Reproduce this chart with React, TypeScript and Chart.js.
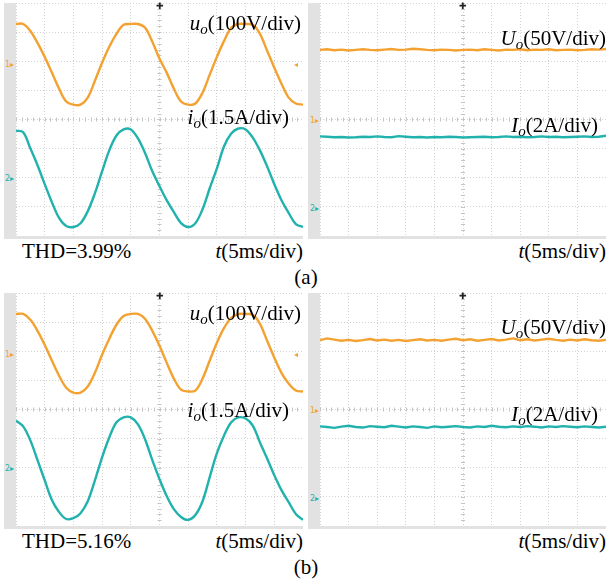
import React, { useEffect, useRef } from "react";
import { Chart, registerables } from "chart.js";
Chart.register(...registerables);

// time axis in divisions (5 ms/div)
const TIME = [0,0.25,0.5,0.75,1,1.25,1.5,1.75,2,2.25,2.5,2.75,3,3.25,3.5,3.75,4,4.25,4.5,4.75,5,5.25,5.5,5.75,6,6.25,6.5,6.75,7,7.25,7.5,7.75,8,8.25,8.5,8.75,9,9.25,9.5,9.75,10];

// (a) AC side, screen divisions
const uoA = [3.28,3.28,3.04,2.63,2.15,1.61,1.06,0.62,0.51,0.51,0.75,1.33,1.95,2.50,2.94,3.25,3.28,3.28,3.15,2.67,2.09,1.61,1.06,0.62,0.51,0.55,0.92,1.54,2.15,2.70,3.15,3.28,3.28,3.25,2.94,2.36,1.78,1.23,0.75,0.55,0.51];
const ioA = [-0.38,-0.44,-0.99,-1.57,-2.22,-2.84,-3.38,-3.66,-3.69,-3.56,-3.15,-2.53,-1.78,-1.06,-0.55,-0.34,-0.34,-0.65,-1.16,-1.78,-2.29,-2.77,-3.18,-3.56,-3.69,-3.56,-3.08,-2.36,-1.68,-0.92,-0.48,-0.31,-0.34,-0.62,-1.06,-1.61,-2.22,-2.77,-3.21,-3.59,-3.69];
// (a) DC side
const UoA = [2.39,2.41,2.38,2.40,2.37,2.39,2.41,2.39,2.38,2.40,2.42,2.39,2.40,2.43,2.41,2.39,2.38,2.40,2.39,2.37,2.39,2.40,2.38,2.41,2.39,2.37,2.40,2.39,2.41,2.38,2.40,2.39,2.41,2.38,2.39,2.40,2.38,2.39,2.41,2.40,2.42];
const IoA = [-0.58,-0.59,-0.61,-0.60,-0.62,-0.61,-0.59,-0.60,-0.58,-0.60,-0.61,-0.57,-0.59,-0.61,-0.60,-0.62,-0.60,-0.61,-0.59,-0.60,-0.62,-0.61,-0.60,-0.59,-0.61,-0.60,-0.58,-0.60,-0.59,-0.61,-0.60,-0.58,-0.60,-0.59,-0.61,-0.60,-0.59,-0.58,-0.60,-0.59,-0.56];
// (b) AC side
const uoB = [3.28,3.28,3.08,2.70,2.22,1.68,1.16,0.75,0.58,0.58,0.79,1.26,1.88,2.43,2.91,3.21,3.28,3.28,3.11,2.70,2.19,1.61,1.06,0.68,0.62,0.65,1.06,1.68,2.29,2.80,3.15,3.28,3.28,3.25,2.94,2.36,1.78,1.26,0.89,0.65,0.62];
const ioB = [-0.38,-0.58,-1.06,-1.74,-2.43,-3.11,-3.52,-3.76,-3.73,-3.56,-3.15,-2.43,-1.64,-0.96,-0.44,-0.27,-0.27,-0.51,-1.03,-1.74,-2.39,-2.97,-3.42,-3.69,-3.79,-3.62,-3.15,-2.32,-1.50,-0.89,-0.44,-0.27,-0.31,-0.55,-1.13,-1.68,-2.26,-2.77,-3.18,-3.59,-3.79];
// (b) DC side
const UoB = [2.38,2.44,2.40,2.36,2.39,2.35,2.38,2.42,2.37,2.40,2.36,2.39,2.35,2.38,2.41,2.37,2.39,2.36,2.40,2.43,2.38,2.41,2.36,2.39,2.42,2.37,2.40,2.44,2.38,2.41,2.37,2.40,2.43,2.39,2.36,2.40,2.37,2.41,2.38,2.36,2.39];
const IoB = [-0.58,-0.60,-0.63,-0.59,-0.56,-0.60,-0.62,-0.57,-0.59,-0.61,-0.56,-0.59,-0.62,-0.58,-0.60,-0.63,-0.58,-0.61,-0.59,-0.57,-0.60,-0.62,-0.58,-0.60,-0.56,-0.59,-0.61,-0.58,-0.60,-0.57,-0.59,-0.62,-0.58,-0.60,-0.57,-0.59,-0.61,-0.58,-0.60,-0.62,-0.59];

const THD_A = "THD=3.99%";
const THD_B = "THD=5.16%";

const ORANGE = "#f3a232";
const CYAN = "#22b2ae";
const GRID = "#d2d2d2";
const STRIP = "#e2e2e2";
const SERIF = "'Liberation Serif','Times New Roman',Times,'DejaVu Serif',serif";

const centerTicks = {
  id: "centerTicks",
  beforeDatasetsDraw(chart: any) {
    const { ctx, scales } = chart;
    const xs = scales.x, ys = scales.y;
    const cx = xs.getPixelForValue(5), cy = ys.getPixelForValue(0);
    ctx.save();
    ctx.strokeStyle = "#c4c4c4";
    ctx.lineWidth = 1;
    ctx.beginPath();
    for (let v = 0; v <= 10.001; v += 0.2) {
      const px = Math.round(xs.getPixelForValue(v)) + 0.5;
      ctx.moveTo(px, cy - 2); ctx.lineTo(px, cy + 2);
    }
    for (let v = -4; v <= 4.001; v += 0.2) {
      const py = Math.round(ys.getPixelForValue(v)) + 0.5;
      ctx.moveTo(cx - 2, py); ctx.lineTo(cx + 2, py);
    }
    ctx.stroke();
    ctx.restore();
  },
};

function Scope({ left, top, width, height, series }: any) {
  const ref = useRef<HTMLCanvasElement>(null);
  useEffect(() => {
    const datasets = series.map((s: any) => ({
      data: TIME.map((t, k) => ({ x: t, y: s.values[k] })),
      borderColor: s.color,
      borderWidth: 2.4,
      pointRadius: 0,
      tension: s.smooth ? 0.35 : 0,
      fill: false,
    }));
    const gridOpts = {
      display: true,
      drawTicks: false,
      color: GRID,
      lineWidth: 1,
      borderDash: [1, 2],
    };
    const chart = new Chart(ref.current!, {
      type: "line",
      data: { datasets },
      plugins: [centerTicks],
      options: {
        animation: false,
        responsive: false,
        maintainAspectRatio: false,
        devicePixelRatio: 1,
        layout: { padding: 0 },
        plugins: { legend: { display: false }, tooltip: { enabled: false } },
        scales: {
          x: {
            type: "linear", min: 0, max: 10,
            ticks: { display: false, stepSize: 1 },
            grid: gridOpts as any,
            border: { display: false, dash: [1, 2] },
          },
          y: {
            type: "linear", min: -4, max: 4,
            ticks: { display: false, stepSize: 1 },
            grid: gridOpts as any,
            border: { display: false, dash: [1, 2] },
          },
        },
      } as any,
    });
    return () => chart.destroy();
  }, []);
  return (
    <canvas
      ref={ref}
      width={width}
      height={height}
      style={{ position: "absolute", left, top, width, height, display: "block" }}
    />
  );
}

function Txt({ x, y, right, children, size = 21, color = "#000", center }: any) {
  const style: any = {
    position: "absolute",
    top: y - size * 0.84,
    fontFamily: SERIF,
    fontSize: size,
    lineHeight: `${size}px`,
    whiteSpace: "nowrap",
    color,
  };
  if (right !== undefined) style.right = 611 - right;
  else if (center !== undefined) { style.left = center; style.transform = "translateX(-50%)"; }
  else style.left = x;
  return <div style={style}>{children}</div>;
}

function Sub({ c }: any) {
  return <span style={{ fontSize: 15, position: "relative", top: 4, fontStyle: "italic" }}>{c}</span>;
}

function Mark({ x, y, text, color, size = 8 }: any) {
  return (
    <div style={{ position: "absolute", left: x, top: y - size / 2 - 1, fontSize: size, lineHeight: `${size}px`, color, fontFamily: "DejaVu Sans", whiteSpace: "nowrap" }}>{text}</div>
  );
}

function Panel({ px, py, w, h, series, marks, trig }: any) {
  return (
    <>
      <div style={{ position: "absolute", left: px - 12, top: py, width: 12, height: h + 3, background: STRIP }} />
      <div style={{ position: "absolute", left: px - 12, top: py + h, width: w + 12, height: 3, background: STRIP }} />
      <Scope left={px} top={py} width={w} height={h} series={series} />
      {marks.map((m: any, i: number) => (
        <Mark key={i} x={m.x} y={py + m.y} text={m.t} color={m.c} />
      ))}
      <div style={{ position: "absolute", left: trig - 4, top: py - 1, fontSize: 9, lineHeight: "9px", color: "#222", fontFamily: "DejaVu Sans" }}>✚</div>
    </>
  );
}

function Row({ oy, ac, acI, dcU, dcI, thd, tag, lab }: any) {
  const H = 233;
  return (
    <>
      <Panel
        px={16} py={oy + 3} w={287} h={H}
        trig={160}
        series={[{ values: ac, color: ORANGE, smooth: true }, { values: acI, color: CYAN, smooth: true }]}
        marks={[
          { x: 5, y: 63, t: "1▸", c: ORANGE },
          { x: 5, y: 177, t: "2▸", c: CYAN },
          { x: 294, y: 63, t: "◂", c: ORANGE },
        ]}
      />
      <Panel
        px={320} py={oy + 3} w={286} h={H}
        trig={463}
        series={[{ values: dcU, color: ORANGE, smooth: false }, { values: dcI, color: CYAN, smooth: false }]}
        marks={[
          { x: 310, y: 119, t: "1▸", c: ORANGE },
          { x: 310, y: 207, t: "2▸", c: CYAN },
        ]}
      />
      <Txt right={301} y={oy + lab[0]}><i>u</i><Sub c="o" />(100V/div)</Txt>
      <Txt right={289} y={oy + lab[1]}><i>i</i><Sub c="o" />(1.5A/div)</Txt>
      <Txt right={606} y={oy + lab[2]}><i>U</i><Sub c="o" />(50V/div)</Txt>
      <Txt right={598} y={oy + lab[3]}><i>I</i><Sub c="o" />(2A/div)</Txt>
      <Txt x={22} y={oy + 259}>{thd}</Txt>
      <Txt right={303} y={oy + 259}><i>t</i>(5ms/div)</Txt>
      <Txt right={606} y={oy + 259}><i>t</i>(5ms/div)</Txt>
      <Txt center={306} y={oy + 285}>{tag}</Txt>
    </>
  );
}

export default function App() {
  return (
    <div style={{ position: "absolute", left: 0, top: 0, width: 611, height: 583, background: "#fff", overflow: "hidden" }}>
      <Row oy={0} ac={uoA} acI={ioA} dcU={UoA} dcI={IoA} thd={THD_A} tag="(a)" lab={[31, 125, 46, 133]} />
      <Row oy={290} ac={uoB} acI={ioB} dcU={UoB} dcI={IoB} thd={THD_B} tag="(b)" lab={[31, 128, 45, 132]} />
    </div>
  );
}
